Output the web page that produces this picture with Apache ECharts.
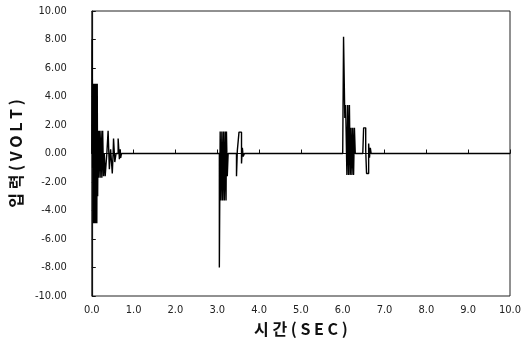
<!DOCTYPE html>
<html>
<head>
<meta charset="utf-8">
<script src="https://cdn.jsdelivr.net/npm/echarts@6/dist/echarts.min.js"></script>
<style>
  html, body { margin: 0; padding: 0; background: #fff; }
  #chart { width: 527px; height: 347px; }
</style>
</head>
<body>
<div id="chart"></div>
<script>
// time (sec) and voltage, one pair of arrays per burst
// each voltage is held until the next time stamp (step trace)
const burst1Time = [0.00, 0.01, 0.02, 0.03, 0.04, 0.05, 0.06, 0.07, 0.08, 0.09, 0.10, 0.11, 0.12, 0.13,
  0.14, 0.15, 0.16, 0.18, 0.20, 0.22, 0.24, 0.26, 0.28, 0.30, 0.32, 0.36, 0.39, 0.42, 0.45, 0.49,
  0.51, 0.52, 0.55, 0.58, 0.63, 0.66, 0.68, 0.69, 0.71, 0.73]
const burst1Volt = [0, 8.0, -1.0, 4.9, -4.9, 4.9, -4.9, 4.9, -4.9, 4.9, -4.9, 4.9, -4.9, 4.9,
  -3.0, 1.6, -1.7, 1.6, -1.7, 1.6, -1.7, 1.6, -1.6, 0, -1.6, 0, 1.6, -1.1, 0.3, -1.4,
  0, 1.05, -0.6, 0, 1.05, -0.4, 0.3, -0.3, 0, 0]

const burst2Time = [3.00, 3.05, 3.07, 3.09, 3.11, 3.13, 3.15, 3.17, 3.19, 3.21, 3.22, 3.24, 3.26,
  3.46, 3.48, 3.52, 3.58, 3.60, 3.62, 3.65]
const burst2Volt = [0, -8.0, 1.55, -3.3, 1.55, -3.3, 1.55, -3.3, 1.55, -3.3, 1.55, -1.6, 0,
  -1.6, 0.2, 1.5, -0.7, 0.4, -0.2, 0]

const burst3Time = [6.00, 6.02, 6.05, 6.07, 6.10, 6.12, 6.14, 6.16, 6.18, 6.20, 6.22, 6.24, 6.26,
  6.28, 6.30, 6.48, 6.50, 6.55, 6.57, 6.62, 6.64, 6.66, 6.68]
const burst3Volt = [0, 8.2, 2.5, 3.4, -1.5, 3.4, -1.5, 3.4, -1.5, 1.8, -1.5, 1.8, -1.5,
  1.8, 0, 0, 1.8, 0.2, -1.4, 0.7, -0.3, 0.4, 0]

const traceEndTime = 10.0

const xTicks = [0, 1, 2, 3, 4, 5, 6, 7, 8, 9, 10]
const yTicks = [-10, -8, -6, -4, -2, 0, 2, 4, 6, 8, 10]

const trace = []
;[[burst1Time, burst1Volt], [burst2Time, burst2Volt], [burst3Time, burst3Volt]].forEach(([ts, vs]) => {
  ts.forEach((t, i) => trace.push([t, vs[i]]))
})
trace.push([traceEndTime, 0])

const labelFont = '"Liberation Sans Narrow", "DejaVu Sans Condensed", sans-serif'

const chart = echarts.init(document.getElementById('chart'), null, { renderer: 'canvas' })

chart.setOption({
  animation: false,
  backgroundColor: '#fff',
  grid: {
    left: 85,
    right: 17,
    top: 11,
    bottom: 51,
    show: true,
    borderColor: '#222',
    borderWidth: 1,
  },
  xAxis: {
    type: 'value',
    min: xTicks[0],
    max: xTicks[xTicks.length - 1],
    interval: 1,
    name: '시 간 ( S E C )',
    nameLocation: 'middle',
    nameGap: 25,
    nameTextStyle: {
      color: '#111',
      fontFamily: '"Noto Sans CJK KR", sans-serif',
      fontSize: 16,
      fontWeight: 'bold',
    },
    axisLine: { lineStyle: { color: '#111', width: 1.2 } },
    axisTick: { inside: true, length: 4, lineStyle: { color: '#111' } },
    axisLabel: {
      color: '#222',
      fontFamily: labelFont,
      fontSize: 11,
      margin: 9,
      formatter: (v) => v.toFixed(1),
    },
    splitLine: { show: false },
  },
  yAxis: {
    type: 'value',
    min: yTicks[0],
    max: yTicks[yTicks.length - 1],
    interval: 2,
    name: '입 력 ( V O L T )',
    nameLocation: 'middle',
    nameGap: 57,
    nameTextStyle: {
      color: '#111',
      fontFamily: '"Noto Sans CJK KR", sans-serif',
      fontSize: 16,
      fontWeight: 'bold',
    },
    axisLine: { lineStyle: { color: '#111', width: 1.2 } },
    axisTick: { inside: true, length: 4, lineStyle: { color: '#111' } },
    axisLabel: {
      color: '#222',
      fontFamily: labelFont,
      fontSize: 11,
      margin: 25,
      formatter: (v) => v.toFixed(2),
    },
    splitLine: { show: false },
  },
  series: [
    {
      type: 'line',
      data: trace,
      step: 'end',
      showSymbol: false,
      symbol: 'none',
      lineStyle: { color: '#000', width: 1.4 },
    },
  ],
})
</script>
</body>
</html>
